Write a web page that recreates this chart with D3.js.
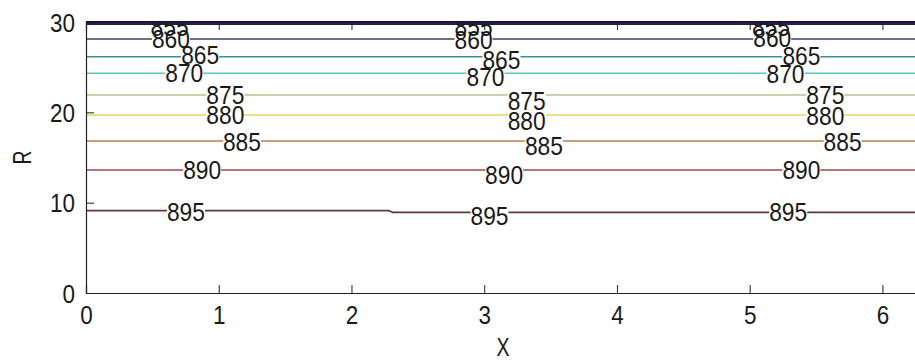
<!DOCTYPE html>
<html><head><meta charset="utf-8">
<script src="https://cdn.jsdelivr.net/npm/d3@7"></script>
<style>
body{margin:0;background:#fff}
text{font-family:"Liberation Sans Narrow","Liberation Sans",Arial,sans-serif;fill:#1a1a1a}
</style></head>
<body><svg id="c" width="915" height="363"></svg>
<script>
// ---- data ----
const levels   = [850, 855, 860, 865, 870, 875, 880, 885, 890, 895];
const contourX = [
  [0, 6.2832], [0, 6.2832], [0, 6.2832], [0, 6.2832], [0, 6.2832],
  [0, 6.2832], [0, 6.2832], [0, 6.2832], [0, 6.2832], [0, 2.28, 2.31, 6.2832]
];
const contourR = [
  [30.0, 30.0], [29.78, 29.78], [28.12, 28.12], [26.16, 26.16], [24.32, 24.32],
  [21.92, 21.92], [19.70, 19.70], [16.83, 16.83], [13.62, 13.62], [9.12, 9.12, 8.93, 8.93]
];
const labelLevel = [855, 860, 865, 870, 875, 880, 885, 890, 895,
                    855, 860, 865, 870, 875, 880, 885, 890, 895,
                    855, 860, 865, 870, 875, 880, 885, 890, 895];
const labelX = [0.63, 0.64, 0.86, 0.74, 1.05, 1.05, 1.175, 0.875, 0.753,
                2.92, 2.92, 3.13, 3.01, 3.32, 3.32, 3.45, 3.15, 3.04,
                5.16, 5.17, 5.39, 5.27, 5.57, 5.57, 5.70, 5.39, 5.29];
const labelR = [29.5, 28.15, 26.35, 24.35, 21.92, 19.65, 16.72, 13.67, 8.92,
                29.5, 28.0, 25.8, 23.86, 21.26, 19.04, 16.27, 13.06, 8.55,
                29.5, 28.28, 26.24, 24.24, 21.92, 19.6, 16.72, 13.62, 8.97];
const xTicks = [0, 1, 2, 3, 4, 5, 6];
const yTicks = [0, 10, 20, 30];
const xLabel = "X", yLabel = "R";

// ---- style ----
const colors = ["#0c0c48", "#1e1e5c", "#3c3c66", "#3c8e98", "#5cc8c0",
                "#b4c48c", "#e4d660", "#b88050", "#a04848", "#5e3838"];
const W = 915, H = 363;
const m = {l: 86, t: 22, b: 293, r: 920};
const svg = d3.select("#c");
svg.append("rect").attr("width", W).attr("height", H).attr("fill", "#fff");

const x = d3.scaleLinear().domain([0, 2 * Math.PI]).range([m.l, m.r]);
const y = d3.scaleLinear().domain([0, 30]).range([m.b, m.t]);
const color = d3.scaleOrdinal().domain(levels).range(colors);
const FS = 25;

svg.append("defs").append("clipPath").attr("id", "plotclip")
  .append("rect").attr("x", m.l).attr("y", m.t).attr("width", m.r - m.l).attr("height", m.b - m.t);

// contour lines
const line = d3.line().x(d => x(d[0])).y(d => y(d[1]));
const lg = svg.append("g");
levels.forEach((lv, i) => {
  const pts = contourX[i].map((v, j) => [v, contourR[i][j]]);
  lg.append("path").attr("d", line(pts)).attr("fill", "none")
    .attr("stroke", color(lv)).attr("stroke-width", lv <= 855 ? 2.2 : 1.6);
});

// gaps in lines under labels
const lblW = 38;
const gg = svg.append("g");
labelLevel.forEach((lv, k) => {
  if (lv <= 855) return;
  const i = levels.indexOf(lv);
  const cx = x(labelX[k]);
  const ly = y(contourR[i][0]);
  gg.append("rect").attr("x", cx - lblW / 2).attr("y", ly - 3)
    .attr("width", lblW).attr("height", 6).attr("fill", "#fff");
});

// labels (clipped to the plot area, as in the original)
const tg = svg.append("g").attr("clip-path", "url(#plotclip)");
labelLevel.forEach((lv, k) => {
  tg.append("text").attr("x", x(labelX[k])).attr("y", y(labelR[k]))
    .attr("text-anchor", "middle").attr("dominant-baseline", "central")
    .attr("font-size", FS).attr("textLength", lblW).attr("lengthAdjust", "spacingAndGlyphs")
    .text(lv);
});

// axes (MATLAB style, ticks inward)
const ax = svg.append("g");
ax.append("g").attr("transform", `translate(0,${m.b})`)
  .call(d3.axisBottom(x).tickValues(xTicks).tickSize(-8).tickPadding(14).tickFormat(d3.format("d")))
  .call(g => g.selectAll("text").attr("font-size", FS).attr("dominant-baseline", "central").attr("dy", null).attr("y", 22)
      .attr("textLength", 12.5).attr("lengthAdjust", "spacingAndGlyphs"));
ax.append("g").attr("transform", `translate(0,${m.t})`)
  .call(d3.axisTop(x).tickValues(xTicks).tickSize(-8).tickFormat(""));
ax.append("g").attr("transform", `translate(${m.l},0)`)
  .call(d3.axisLeft(y).tickValues(yTicks).tickSize(-8).tickPadding(11).tickFormat(d3.format("d")))
  .call(g => g.selectAll("text").attr("font-size", FS).attr("dominant-baseline", "central").attr("dy", null)
      .each(function(d){ d3.select(this).attr("textLength", String(d).length * 12.5).attr("lengthAdjust", "spacingAndGlyphs"); }));
ax.selectAll(".domain").attr("stroke", "#222").attr("stroke-width", 1.2);
ax.selectAll(".tick line").attr("stroke", "#222");
ax.selectAll("text").attr("fill", "#1a1a1a").attr("font-family", null);

// axis titles
svg.append("text").attr("x", (m.l + m.r) / 2).attr("y", 347)
  .attr("text-anchor", "middle").attr("dominant-baseline", "central")
  .attr("font-size", FS).attr("textLength", 13).attr("lengthAdjust", "spacingAndGlyphs").text(xLabel);
svg.append("text").attr("transform", `translate(22,${(m.t + m.b) / 2}) rotate(-90)`)
  .attr("text-anchor", "middle").attr("dominant-baseline", "central")
  .attr("font-size", FS).attr("textLength", 14).attr("lengthAdjust", "spacingAndGlyphs").text(yLabel);
</script></body></html>
